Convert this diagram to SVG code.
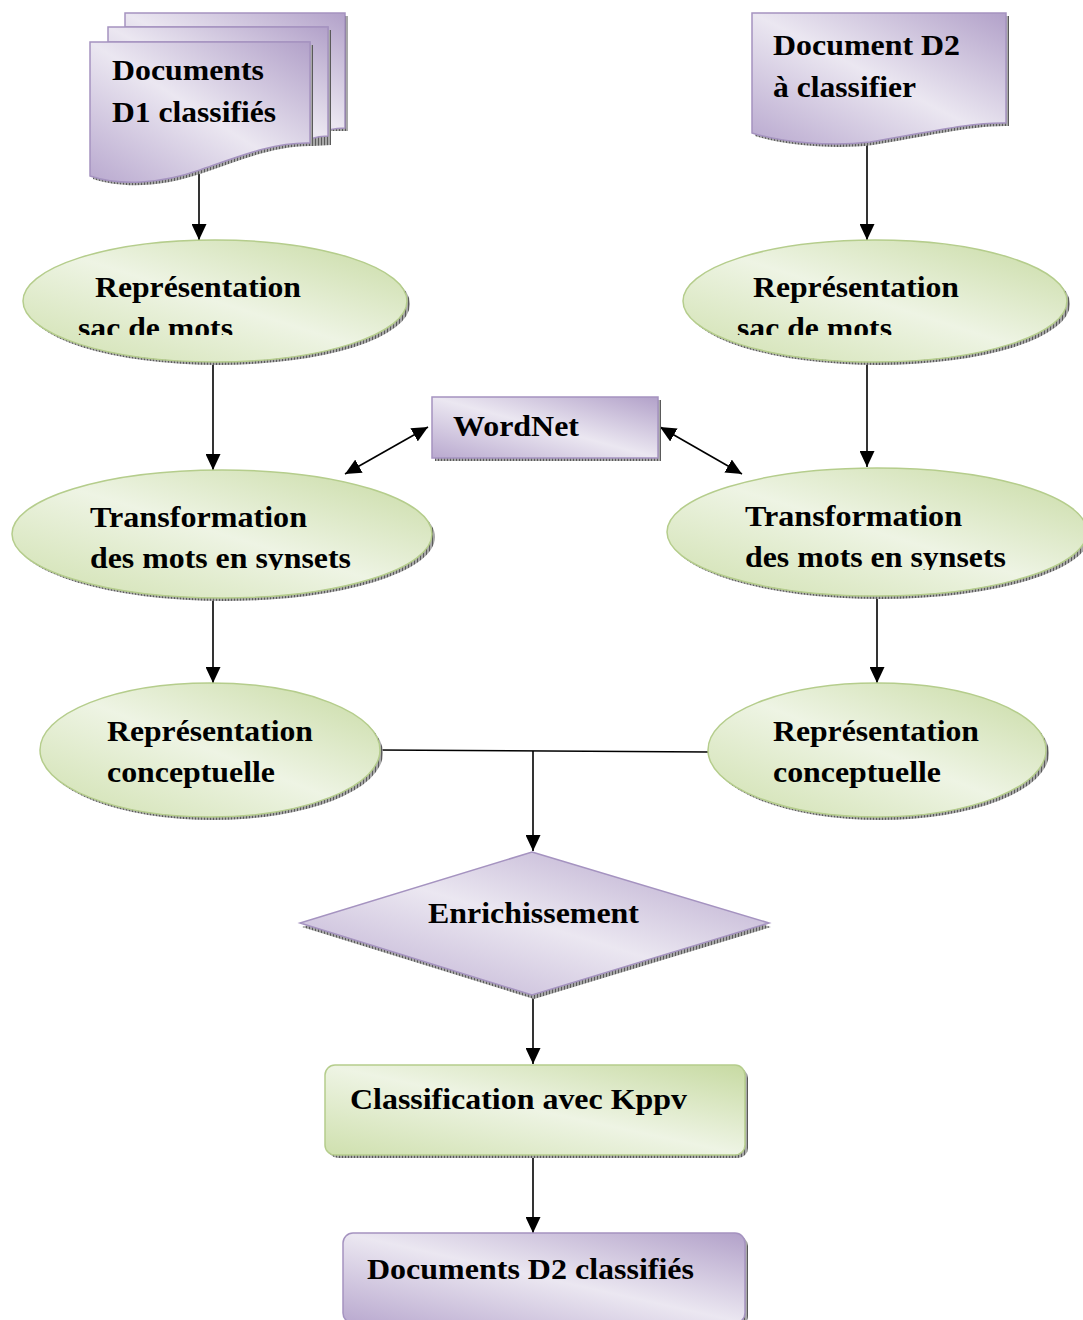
<svg xmlns="http://www.w3.org/2000/svg" width="1083" height="1320" viewBox="0 0 1083 1320">
<style>
.t{font-family:"Liberation Serif","Times New Roman",serif;font-weight:bold;font-size:30px;fill:#000}
.pu{fill:url(#gp);stroke:#a593c0;stroke-width:1.5}
.gr{fill:url(#gg);stroke:#b5cd8c;stroke-width:1.5}
.sh{fill:url(#hatch)}
.c{stroke:#000;stroke-width:1.6;fill:none}
.a{marker-end:url(#ah)}
.d{marker-start:url(#ah);marker-end:url(#ah)}
</style>
<defs>
<linearGradient id="gp" x1="0" y1="1" x2="1" y2="0">
<stop offset="0" stop-color="#b9a9cf"/>
<stop offset="0.5" stop-color="#ebe7f1"/>
<stop offset="1" stop-color="#b2a1c9"/>
</linearGradient>
<linearGradient id="gg" x1="0" y1="1" x2="1" y2="0">
<stop offset="0" stop-color="#cfe0ae"/>
<stop offset="0.5" stop-color="#eef4e4"/>
<stop offset="1" stop-color="#c7daa2"/>
</linearGradient>
<pattern id="hatch" width="3" height="3" patternUnits="userSpaceOnUse">
<rect width="3" height="3" fill="#a8a8a8"/>
<rect width="1" height="3" fill="#5a5a5a"/>
</pattern>
<marker id="ah" viewBox="0 0 16 15" markerUnits="userSpaceOnUse" markerWidth="16" markerHeight="15" refX="16" refY="7.5" orient="auto-start-reverse">
<path d="M0,0 L16,7.5 L0,15 Z" fill="#000"/>
</marker>
<clipPath id="clipL"><rect x="0" y="0" width="1083" height="335"/></clipPath>
<clipPath id="clipT"><rect x="0" y="0" width="1083" height="570"/></clipPath>
</defs>
<rect width="1083" height="1320" fill="#fff"/>

<g id="connectors">
<line class="c a" x1="199" y1="170" x2="199" y2="240"/>
<line class="c a" x1="867" y1="143" x2="867" y2="240"/>
<line class="c a" x1="213" y1="363" x2="213" y2="470"/>
<line class="c a" x1="867" y1="363" x2="867" y2="467"/>
<line class="c a" x1="213" y1="598" x2="213" y2="683"/>
<line class="c a" x1="877" y1="597" x2="877" y2="683"/>
<line class="c d" x1="345" y1="474" x2="428" y2="427"/>
<line class="c d" x1="742" y1="474" x2="660" y2="427"/>
<polyline class="c" points="378,750 708,752"/>
<line class="c a" x1="533" y1="751" x2="533" y2="851"/>
<line class="c a" x1="533" y1="997" x2="533" y2="1064"/>
<line class="c a" x1="533" y1="1157" x2="533" y2="1233"/>
</g>

<g id="doc-d1">
<path class="sh" d="M128,16 H348 V131 L331,131 V30 H128 Z"/>
<path class="pu" d="M125,13 H345 V128 C338,128 333,129 328,130 V27 H125 Z"/>
<path class="sh" d="M111,30 H331 V145 L313,146 V45 H111 Z"/>
<path class="pu" d="M108,27 H328 V136 C321,136 316,137 310,139 V42 H108 Z"/>
<path class="sh" d="M93,45 H313 V146 C278,145 243,159 203,173 C163,187 123,189 93,179 Z"/>
<path class="pu" d="M90,42 H310 V143 C275,142 240,156 200,170 C160,184 120,186 90,176 Z"/>
<text class="t" x="112" y="80" textLength="152" lengthAdjust="spacingAndGlyphs">Documents</text>
<text class="t" x="112" y="122" textLength="164" lengthAdjust="spacingAndGlyphs">D1 classifiés</text>
</g>

<g id="doc-d2">
<path class="sh" d="M755,16 H1009 V126 C973,125 923,137 873,145 C833,150 783,145 755,136 Z"/>
<path class="pu" d="M752,13 H1006 V123 C970,122 920,134 870,142 C830,147 780,142 752,133 Z"/>
<text class="t" x="773" y="55" textLength="187" lengthAdjust="spacingAndGlyphs">Document D2</text>
<text class="t" x="773" y="97" textLength="143" lengthAdjust="spacingAndGlyphs">à classifier</text>
</g>

<g id="bow-left">
<ellipse class="sh" cx="218" cy="304" rx="192" ry="61"/>
<ellipse class="gr" cx="215" cy="301" rx="192" ry="61"/>
<text class="t" x="95" y="297" textLength="206" lengthAdjust="spacingAndGlyphs">Représentation</text>
<text class="t" x="78" y="338" textLength="155" lengthAdjust="spacingAndGlyphs" clip-path="url(#clipL)">sac de mots</text>
</g>

<g id="bow-right">
<ellipse class="sh" cx="878" cy="304" rx="192" ry="61"/>
<ellipse class="gr" cx="875" cy="301" rx="192" ry="61"/>
<text class="t" x="753" y="297" textLength="206" lengthAdjust="spacingAndGlyphs">Représentation</text>
<text class="t" x="737" y="338" textLength="155" lengthAdjust="spacingAndGlyphs" clip-path="url(#clipL)">sac de mots</text>
</g>

<g id="wordnet">
<rect class="sh" x="435" y="400" width="226" height="61"/>
<rect class="pu" x="432" y="397" width="226" height="61"/>
<text class="t" x="453" y="436" textLength="126" lengthAdjust="spacingAndGlyphs">WordNet</text>
</g>

<g id="transf-left">
<ellipse class="sh" cx="225" cy="537" rx="210" ry="64"/>
<ellipse class="gr" cx="222" cy="534" rx="210" ry="64"/>
<text class="t" x="90" y="527" textLength="217" lengthAdjust="spacingAndGlyphs">Transformation</text>
<text class="t" x="90" y="568" textLength="261" lengthAdjust="spacingAndGlyphs" clip-path="url(#clipT)">des mots en synsets</text>
</g>

<g id="transf-right">
<ellipse class="sh" cx="880" cy="535" rx="210" ry="64"/>
<ellipse class="gr" cx="877" cy="532" rx="210" ry="64"/>
<text class="t" x="745" y="526" textLength="217" lengthAdjust="spacingAndGlyphs">Transformation</text>
<text class="t" x="745" y="567" textLength="261" lengthAdjust="spacingAndGlyphs" clip-path="url(#clipT)">des mots en synsets</text>
</g>

<g id="concept-left">
<ellipse class="sh" cx="213" cy="753" rx="170" ry="67"/>
<ellipse class="gr" cx="210" cy="750" rx="170" ry="67"/>
<text class="t" x="107" y="741" textLength="206" lengthAdjust="spacingAndGlyphs">Représentation</text>
<text class="t" x="107" y="782" textLength="168" lengthAdjust="spacingAndGlyphs">conceptuelle</text>
</g>

<g id="concept-right">
<ellipse class="sh" cx="880" cy="753" rx="169" ry="67"/>
<ellipse class="gr" cx="877" cy="750" rx="169" ry="67"/>
<text class="t" x="773" y="741" textLength="206" lengthAdjust="spacingAndGlyphs">Représentation</text>
<text class="t" x="773" y="782" textLength="168" lengthAdjust="spacingAndGlyphs">conceptuelle</text>
</g>

<g id="enrichissement">
<polygon class="sh" points="534,856 771,927 534,999 302,927"/>
<polygon class="pu" points="532,852 769,923 532,995 300,923"/>
<text class="t" x="428" y="923" textLength="211" lengthAdjust="spacingAndGlyphs">Enrichissement</text>
</g>

<g id="classification">
<rect class="sh" x="328" y="1068" width="420" height="90" rx="10"/>
<rect class="gr" x="325" y="1065" width="420" height="90" rx="10"/>
<text class="t" x="350" y="1109" textLength="337" lengthAdjust="spacingAndGlyphs">Classification avec Kppv</text>
</g>

<g id="docs-d2-classifies">
<rect class="sh" x="346" y="1236" width="402" height="90" rx="10"/>
<rect class="pu" x="343" y="1233" width="402" height="90" rx="10"/>
<text class="t" x="367" y="1279" textLength="327" lengthAdjust="spacingAndGlyphs">Documents D2 classifiés</text>
</g>
</svg>
